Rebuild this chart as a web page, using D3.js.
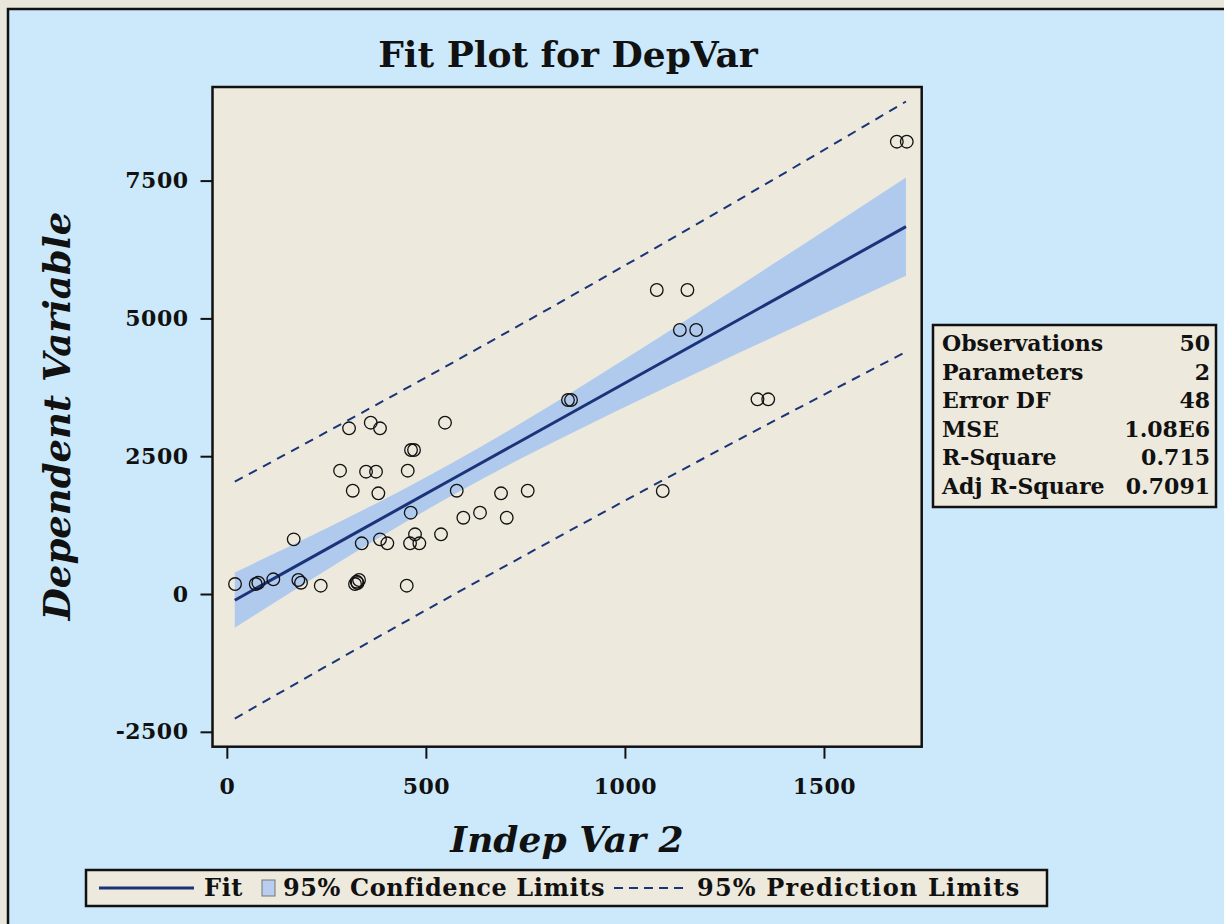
<!DOCTYPE html>
<html>
<head>
<meta charset="utf-8">
<script src="https://cdn.jsdelivr.net/npm/d3@7"></script>
<style>
  html, body { margin: 0; padding: 0; background: #e9e6dc; }
  svg { display: block; }
  text { font-family: "DejaVu Serif", "Liberation Serif", serif; fill: #111; }
</style>
</head>
<body>
<svg id="chart" width="1224" height="924"></svg>
<script>
// ---------------- data ----------------
const indepVar = [20.6, 72.6, 79.1, 116.8, 179.6, 186.4, 235.9, 322, 326.3, 332.1,
  328.3, 451.9, 168, 338.9, 384.8, 403.2, 460.2, 472.7, 483.6, 538,
  461.9, 594.1, 636, 703.1, 577.5, 688.8, 755.8, 316.3, 380.6, 284.4,
  349.7, 374.8, 454.4, 462.7, 470.2, 307, 361.5, 384.8, 548.1, 857,
  864.6, 1080, 1157, 1138, 1179, 1095, 1333, 1360, 1683, 1708];
const depVar = [181, 181, 205, 267, 254, 205, 151, 181, 223, 254,
  200, 151, 992, 920, 992, 920, 920, 1083, 920, 1083,
  1475, 1384, 1475, 1384, 1874, 1827, 1874, 1874, 1827, 2237,
  2219, 2219, 2237, 2612, 2612, 3006, 3108, 3006, 3108, 3520,
  3520, 5515, 5515, 4790, 4790, 1869, 3532, 3532, 8206, 8206];

const bandX      = [20, 150, 300, 450, 569, 750, 900, 1050, 1200, 1450, 1706];
const fitValues  = [-112, 411, 1014, 1617, 2095, 2822, 3425, 4028, 4631, 5636, 6664];
const clLower    = [-614, -17, 658, 1309, 1800, 2498, 3041, 3566, 4079, 4921, 5773];
const clUpper    = [390, 839, 1370, 1925, 2390, 3146, 3809, 4490, 5183, 6351, 7555];
const plLower    = [-2261, -1722, -1106, -495, -15, 708, 1301, 1888, 2470, 3427, 4393];
const plUpper    = [2037, 2544, 3134, 3729, 4205, 4936, 5549, 6168, 6792, 7845, 8935];

const xTicks = [0, 500, 1000, 1500];
const yTicks = [-2500, 0, 2500, 5000, 7500];

const statLabels = ["Observations", "Parameters", "Error DF", "MSE", "R-Square", "Adj R-Square"];
const statValues = ["50", "2", "48", "1.08E6", "0.715", "0.7091"];

const titleText = "Fit Plot for DepVar";
const xTitle = "Indep Var 2";
const yTitle = "Dependent Variable";
const legendItems = ["Fit", "95% Confidence Limits", "95% Prediction Limits"];

// ---------------- chart ----------------
const svg = d3.select("#chart");
const navy = "#1b3479";

// outer panel
svg.append("rect").attr("x", 8).attr("y", 9).attr("width", 1230).attr("height", 930)
  .attr("fill", "#cbe9fb").attr("stroke", "#111").attr("stroke-width", 2.5);

const x = d3.scaleLinear().domain([-36, 1745.5]).range([212.5, 921.7]);
const y = d3.scaleLinear().domain([-2770, 9198]).range([746.7, 87]);

// plot background
svg.append("rect").attr("x", x.range()[0]).attr("y", y.range()[1])
  .attr("width", x.range()[1] - x.range()[0]).attr("height", y.range()[0] - y.range()[1])
  .attr("fill", "#ede9dd");

const rows = bandX.map((v, i) => ({x: v, fit: fitValues[i], cl: clLower[i], cu: clUpper[i], pl: plLower[i], pu: plUpper[i]}));

// confidence band
svg.append("path").datum(rows)
  .attr("d", d3.area().x(d => x(d.x)).y0(d => y(d.cl)).y1(d => y(d.cu)).curve(d3.curveMonotoneX))
  .attr("fill", "#a9c6f0").attr("opacity", 0.9);

// fit line
svg.append("path").datum(rows)
  .attr("d", d3.line().x(d => x(d.x)).y(d => y(d.fit)))
  .attr("fill", "none").attr("stroke", navy).attr("stroke-width", 3);

// prediction limits
["pl", "pu"].forEach(k => {
  svg.append("path").datum(rows)
    .attr("d", d3.line().x(d => x(d.x)).y(d => y(d[k])).curve(d3.curveMonotoneX))
    .attr("fill", "none").attr("stroke", navy).attr("stroke-width", 2)
    .attr("stroke-dasharray", "9,7");
});

// points
svg.append("g").selectAll("circle").data(indepVar.map((v, i) => [v, depVar[i]]))
  .join("circle")
  .attr("cx", d => x(d[0])).attr("cy", d => y(d[1])).attr("r", 6.3)
  .attr("fill", "none").attr("stroke", "#111").attr("stroke-width", 1.3);

// frame
svg.append("rect").attr("x", x.range()[0]).attr("y", y.range()[1])
  .attr("width", x.range()[1] - x.range()[0]).attr("height", y.range()[0] - y.range()[1])
  .attr("fill", "none").attr("stroke", "#111").attr("stroke-width", 2.5);

// axes
const fmt = d => String(d);
const xAxis = svg.append("g").attr("transform", `translate(0,${y.range()[0]})`)
  .call(d3.axisBottom(x).tickValues(xTicks).tickSize(12).tickPadding(20).tickFormat(fmt));
const yAxis = svg.append("g").attr("transform", `translate(${x.range()[0]},0)`)
  .call(d3.axisLeft(y).tickValues(yTicks).tickSize(12).tickPadding(12).tickFormat(fmt));
[xAxis, yAxis].forEach(g => {
  g.select(".domain").remove();
  g.selectAll(".tick line").attr("stroke", "#111").attr("stroke-width", 2);
  g.selectAll(".tick text").attr("font-family", "DejaVu Serif").attr("font-weight", "bold")
    .attr("font-size", 22).attr("letter-spacing", 0.5).attr("fill", "#111");
});

// titles
svg.append("text").attr("x", 568).attr("y", 67).attr("text-anchor", "middle")
  .attr("font-size", 36).attr("font-weight", "bold").text(titleText);
svg.append("text").attr("x", 567).attr("y", 852).attr("text-anchor", "middle")
  .attr("font-size", 36).attr("font-weight", "bold").attr("font-style", "italic").text(xTitle);
svg.append("text").attr("transform", "translate(70,416) rotate(-90)").attr("text-anchor", "middle")
  .attr("font-size", 37).attr("font-weight", "bold").attr("font-style", "italic").text(yTitle);

// stats box
const sb = svg.append("g");
sb.append("rect").attr("x", 933).attr("y", 325).attr("width", 283).attr("height", 182)
  .attr("fill", "#ede9dd").attr("stroke", "#111").attr("stroke-width", 2.5);
statLabels.forEach((lab, i) => {
  const yy = 351 + i * 28.6;
  sb.append("text").attr("x", 942).attr("y", yy).attr("font-size", 22).attr("font-weight", "bold").text(lab);
  sb.append("text").attr("x", 1210).attr("y", yy).attr("text-anchor", "end")
    .attr("font-size", 22).attr("font-weight", "bold").text(statValues[i]);
});

// legend
const lg = svg.append("g");
lg.append("rect").attr("x", 86).attr("y", 870).attr("width", 961).attr("height", 36)
  .attr("fill", "#ede9dd").attr("stroke", "#111").attr("stroke-width", 2.5);
lg.append("line").attr("x1", 99).attr("x2", 194).attr("y1", 888).attr("y2", 888)
  .attr("stroke", navy).attr("stroke-width", 3);
lg.append("text").attr("x", 204).attr("y", 896).attr("font-size", 24).attr("font-weight", "bold")
  .attr("letter-spacing", 0.6).text(legendItems[0]);
lg.append("rect").attr("x", 262).attr("y", 880).attr("width", 13).attr("height", 16)
  .attr("fill", "#b9cdee").attr("stroke", "#777").attr("stroke-width", 1);
lg.append("text").attr("x", 283).attr("y", 896).attr("font-size", 24).attr("font-weight", "bold")
  .attr("letter-spacing", 0.6).text(legendItems[1]);
lg.append("line").attr("x1", 614).attr("x2", 686).attr("y1", 888).attr("y2", 888)
  .attr("stroke", navy).attr("stroke-width", 2).attr("stroke-dasharray", "9,6");
lg.append("text").attr("x", 697).attr("y", 896).attr("font-size", 24).attr("font-weight", "bold")
  .attr("letter-spacing", 1.2).text(legendItems[2]);
</script>
</body>
</html>
